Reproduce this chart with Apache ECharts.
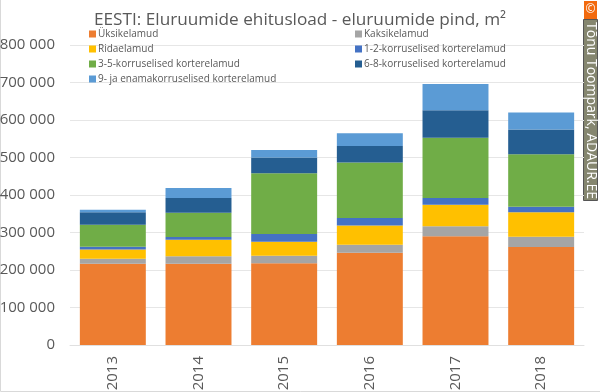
<!DOCTYPE html>
<html>
<head>
<meta charset="utf-8">
<style>
  html, body { margin: 0; padding: 0; background: #fff; }
  #chart { width: 600px; height: 392px; }
</style>
<script src="https://cdn.jsdelivr.net/npm/echarts@6/dist/echarts.min.js"></script>
</head>
<body>
<div id="chart"></div>
<script>
let years = ['2013', '2014', '2015', '2016', '2017', '2018']
let names = [
  'Üksikelamud', 'Kaksikelamud', 'Ridaelamud', '1-2-korruselised korterelamud',
  '3-5-korruselised korterelamud', '6-8-korruselised korterelamud',
  '9- ja enamakorruselised korterelamud'
]
let colors = ['#ed7d31', '#a5a5a5', '#ffc000', '#4472c4', '#70ad47', '#255e91', '#5b9bd5']

let yksik = [217000, 217000, 218000, 246000, 290000, 261500]
let kaksik = [13000, 20000, 20000, 21500, 27000, 27500]
let rida = [25000, 44000, 37500, 51500, 57000, 65000]
let k1_2 = [7000, 7000, 20500, 20000, 18000, 15000]
let k3_5 = [59000, 65000, 162000, 148000, 161000, 140000]
let k6_8 = [33000, 39000, 42000, 44000, 73000, 66000]
let k9 = [7000, 27000, 20000, 34000, 70000, 45000]
let values = [yksik, kaksik, rida, k1_2, k3_5, k6_8, k9]

let font = '"Open Sans", sans-serif'

function legend(left, items) {
  return {
    left: left,
    top: 23,
    orient: 'vertical',
    itemWidth: 7,
    itemHeight: 7,
    itemGap: 3,
    icon: 'rect',
    data: items,
    selectedMode: false,
    textStyle: {
      fontFamily: font,
      fontSize: 10,
      color: '#595959',
      padding: [0, 0, 0, -3],
      lineHeight: 12
    }
  }
}

let chart = echarts.init(document.getElementById('chart'))
chart.setOption({
  animation: false,
  color: colors,
  title: {
    text: 'EESTI: Eluruumide ehitusload - eluruumide pind, m²',
    left: 89,
    top: 7,
    textStyle: { fontFamily: font, fontSize: 17.2, fontWeight: 'normal', color: '#595959' }
  },
  legend: [
    legend(84, [names[0], names[2], names[4], names[6]]),
    legend(350, [names[1], names[3], names[5]])
  ],
  grid: { left: 70, right: 16, top: 45, bottom: 47, outerBoundsMode: 'none' },
  xAxis: {
    type: 'category',
    data: years,
    axisTick: { show: false },
    axisLine: { lineStyle: { color: '#e0e0e0' } },
    axisLabel: { rotate: 90, margin: 11, fontFamily: font, fontSize: 15, color: '#595959' }
  },
  yAxis: {
    type: 'value',
    min: 0,
    max: 800000,
    interval: 100000,
    axisLine: { show: false },
    axisTick: { show: false },
    splitLine: { lineStyle: { color: '#e6e6e6' } },
    axisLabel: {
      margin: 15,
      fontFamily: font,
      fontSize: 15,
      color: '#595959',
      formatter: function (v) { return String(v).replace(/\B(?=(\d{3})+$)/g, ' ') }
    }
  },
  series: values.map(function (vals, i) {
    return {
      name: names[i],
      type: 'bar',
      stack: 'pind',
      barCategoryGap: '23%',
      data: vals
    }
  }),
  graphic: [
    { type: 'rect', shape: { x: 0.5, y: -2, width: 602, height: 393.5 }, style: { fill: 'none', stroke: '#d9d9d9', lineWidth: 1 } },
    { type: 'rect', shape: { x: 584, y: 1, width: 13, height: 18 }, style: { fill: '#f26a0e' } },
    { type: 'text', x: 590.5, y: 10, style: { text: '©', font: '12px "Open Sans"', fill: '#fff', align: 'center', verticalAlign: 'middle' } },
    { type: 'rect', shape: { x: 583.5, y: 19.5, width: 14, height: 181 }, style: { fill: '#85866f', stroke: '#555', lineWidth: 1 } },
    { type: 'text', x: 591, y: 22, rotation: -Math.PI / 2, style: { text: 'Tõnu Toompark, ADAUR.EE', font: '14px "Open Sans"', fill: '#fff', verticalAlign: 'middle' } }
  ]
})
</script>
</body>
</html>
